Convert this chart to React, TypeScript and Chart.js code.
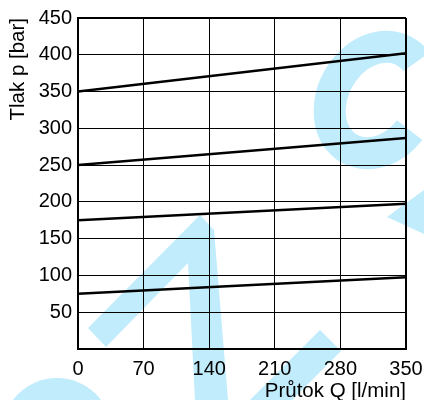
import React, { useEffect, useRef } from "react";
import { Chart, registerables } from "chart.js";

Chart.register(...registerables);

const flowQ = [0, 350];
const line75 = [75, 97.5];
const line175 = [175, 197.5];
const line250 = [250, 287];
const line350 = [350, 402];
const xTicks = [0, 70, 140, 210, 280, 350];
const yTicks = [50, 100, 150, 200, 250, 300, 350, 400, 450];
const xTitle = "Průtok Q [l/min]";
const yTitle = "Tlak p [bar]";

const FONT = "'Liberation Sans', Arial, sans-serif";

const watermark = {
  id: "watermark",
  beforeDraw(chart: any) {
    const ctx = chart.ctx;
    ctx.save();
    ctx.fillStyle = "rgb(192,236,252)";
    ctx.strokeStyle = "rgb(192,236,252)";
    // A-shape
    ctx.beginPath();
    ctx.moveTo(88, 328);
    ctx.lineTo(200, 215);
    ctx.lineTo(214, 230);
    ctx.lineTo(228, 400);
    ctx.lineTo(195, 400);
    ctx.lineTo(188, 263);
    ctx.lineTo(106, 347);
    ctx.closePath();
    ctx.fill();
    // lower chevron stroke
    ctx.beginPath();
    ctx.moveTo(320, 330);
    ctx.lineTo(341, 351);
    ctx.lineTo(292, 400);
    ctx.lineTo(250, 400);
    ctx.closePath();
    ctx.fill();
    // bottom-left blob
    ctx.beginPath();
    ctx.arc(57, 433, 55, 0, Math.PI * 2);
    ctx.fill();
    // C shape (italic)
    ctx.lineWidth = 32;
    ctx.lineCap = "butt";
    ctx.beginPath();
    ctx.ellipse(377, 100, 44, 56, (30 * Math.PI) / 180, (10 * Math.PI) / 180, (290 * Math.PI) / 180, false);
    ctx.stroke();
    // small wedge on right
    ctx.beginPath();
    ctx.moveTo(387, 217);
    ctx.lineTo(424, 190);
    ctx.lineTo(424, 234);
    ctx.closePath();
    ctx.fill();
    ctx.restore();
  },
};

function mk(vals: number[]) {
  return flowQ.map((x, i) => ({ x, y: vals[i] }));
}

export default function App() {
  const ref = useRef<HTMLCanvasElement>(null);
  useEffect(() => {
    if (!ref.current) return;
    const ds = (vals: number[]) => ({
      data: mk(vals),
      borderColor: "#000",
      borderWidth: 2.5,
      pointRadius: 0,
      fill: false,
      tension: 0,
    });
    const chart = new Chart(ref.current, {
      type: "line",
      data: {
        datasets: [ds(line75), ds(line175), ds(line250), ds(line350)],
      },
      plugins: [watermark],
      options: {
        animation: false,
        responsive: false,
        maintainAspectRatio: false,
        layout: { padding: { top: 18, right: 18, left: 0, bottom: 0 } },
        plugins: { legend: { display: false }, tooltip: { enabled: false } },
        scales: {
          x: {
            type: "linear",
            min: 0,
            max: 350,
            afterBuildTicks: (s: any) => {
              s.ticks = xTicks.map((v) => ({ value: v }));
            },
            afterFit: (s: any) => {
              s.height = 51;
              s.paddingLeft = 0;
              s.paddingRight = 0;
            },
            ticks: {
              color: "#000",
              font: { family: FONT, size: 20 },
              padding: 8,
              maxRotation: 0,
            },
            grid: {
              color: "#000",
              lineWidth: (c: any) => (c.tick && c.tick.value === 350 ? 2 : 1),
              drawTicks: false,
            },
            border: { color: "#000", width: 2 },
            title: {
              display: true,
              text: xTitle,
              align: "end",
              color: "#000",
              font: { family: FONT, size: 20.5 },
              padding: { top: 0, bottom: -4 },
            },
          },
          y: {
            type: "linear",
            min: 0,
            max: 450,
            afterBuildTicks: (s: any) => {
              s.ticks = [0, ...yTicks].map((v) => ({ value: v }));
            },
            afterFit: (s: any) => {
              s.width = 78;
              s.paddingTop = 0;
              s.paddingBottom = 0;
            },
            ticks: {
              color: "#000",
              font: { family: FONT, size: 20 },
              padding: 6,
              callback: (v: any) => (v === 0 ? "" : String(v)),
            },
            grid: {
              color: "#000",
              lineWidth: (c: any) => (c.tick && c.tick.value === 450 ? 2 : 1),
              drawTicks: false,
            },
            border: { color: "#000", width: 2 },
            title: {
              display: true,
              text: yTitle,
              align: "end",
              color: "#000",
              font: { family: FONT, size: 20.5 },
              padding: { top: 6, bottom: 0 },
            },
          },
        },
      },
    } as any);
    return () => chart.destroy();
  }, []);
  return (
    <div style={{ position: "fixed", left: 0, top: 0, width: 424, height: 400, background: "#fff" }}>
      <canvas ref={ref} width={424} height={400} style={{ display: "block" }} />
    </div>
  );
}
